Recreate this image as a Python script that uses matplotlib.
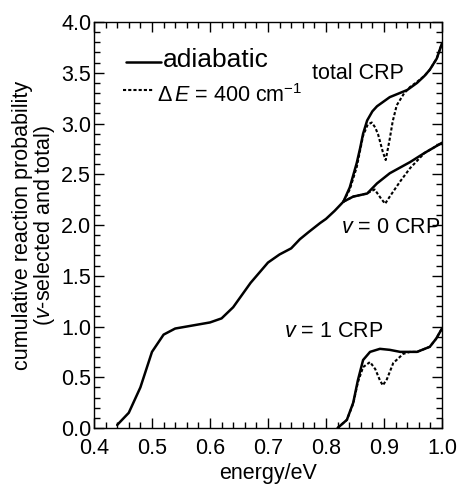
import matplotlib
matplotlib.use("Agg")
import matplotlib.pyplot as plt
from matplotlib.ticker import MultipleLocator

plt.rcParams['font.family'] = ['Liberation Sans', 'DejaVu Sans']
plt.rcParams['mathtext.fontset'] = 'custom'
plt.rcParams['mathtext.rm'] = 'Liberation Sans'
plt.rcParams['mathtext.it'] = 'Liberation Sans:italic'

# shared part (total = v=0 below the v=1 threshold)
e_low = [0.44, 0.46, 0.48, 0.50, 0.52, 0.54, 0.57, 0.60, 0.62, 0.64, 0.67,
         0.70, 0.72, 0.74, 0.755, 0.77, 0.79, 0.80, 0.815, 0.83]
p_low = [0.03, 0.15, 0.40, 0.75, 0.92, 0.98, 1.01, 1.04, 1.08, 1.19, 1.43,
         1.63, 1.71, 1.77, 1.86, 1.93, 2.02, 2.06, 2.14, 2.23]

# v = 0 CRP
e_v0 = [0.83, 0.847, 0.871, 0.888, 0.91, 0.945, 0.97, 1.0]
p_v0_adiab = [2.23, 2.28, 2.31, 2.41, 2.51, 2.62, 2.71, 2.81]
e_v0_dE = [0.83, 0.847, 0.87, 0.884, 0.895, 0.902, 0.91, 0.928, 0.945, 0.96, 0.97, 1.0]
p_v0_dE = [2.23, 2.28, 2.31, 2.35, 2.26, 2.21, 2.28, 2.43, 2.56, 2.65, 2.71, 2.81]

# total CRP
e_tot = [0.83, 0.841, 0.853, 0.859, 0.864, 0.871, 0.88, 0.888, 0.91, 0.94,
         0.957, 0.97, 0.979, 0.991, 1.0]
p_tot_adiab = [2.23, 2.37, 2.61, 2.76, 2.90, 3.03, 3.12, 3.17, 3.26, 3.33,
               3.40, 3.47, 3.53, 3.64, 3.79]
e_tot_dE = [0.83, 0.841, 0.853, 0.864, 0.872, 0.879, 0.885, 0.89, 0.898, 0.903,
            0.91, 0.915, 0.922, 0.935, 0.945, 0.957, 0.97, 0.979, 0.991, 1.0]
p_tot_dE = [2.23, 2.35, 2.57, 2.88, 2.99, 3.01, 2.96, 2.89, 2.72, 2.64,
            2.85, 3.02, 3.18, 3.30, 3.36, 3.41, 3.47, 3.53, 3.64, 3.79]

# v = 1 CRP
e_v1 = [0.82, 0.836, 0.847, 0.855, 0.864, 0.876, 0.893, 0.91, 0.928, 0.957,
        0.979, 0.99, 1.0]
p_v1_adiab = [0.0, 0.08, 0.25, 0.47, 0.67, 0.75, 0.78, 0.77, 0.75, 0.75,
              0.80, 0.88, 0.98]
e_v1_dE = [0.82, 0.836, 0.847, 0.855, 0.864, 0.876, 0.885, 0.893, 0.898, 0.905,
           0.916, 0.933, 0.945, 0.957, 0.979, 0.99, 1.0]
p_v1_dE = [0.0, 0.08, 0.24, 0.45, 0.60, 0.65, 0.58, 0.47, 0.42, 0.48,
           0.64, 0.73, 0.75, 0.75, 0.80, 0.88, 0.98]

solid = dict(color='black', lw=1.8, solid_capstyle='round')
dotted = dict(color='black', lw=1.5, linestyle=(0, (1.5, 1.0)))
fs = 15.5

fig = plt.figure(figsize=(4.58, 4.84), dpi=100)
ax = fig.add_axes([0.2052, 0.1157, 0.7598, 0.8388])

ax.plot(e_low, p_low, **solid)
ax.plot(e_v0_dE, p_v0_dE, **dotted)
ax.plot(e_tot_dE, p_tot_dE, **dotted)
ax.plot(e_v1_dE, p_v1_dE, **dotted)
ax.plot(e_v0, p_v0_adiab, **solid)
ax.plot(e_tot, p_tot_adiab, **solid)
ax.plot(e_v1, p_v1_adiab, **solid)

ax.set_xlim(0.4, 1.0)
ax.set_ylim(0.0, 4.0)
ax.xaxis.set_major_locator(MultipleLocator(0.1))
ax.xaxis.set_minor_locator(MultipleLocator(0.02))
ax.yaxis.set_major_locator(MultipleLocator(0.5))
ax.yaxis.set_minor_locator(MultipleLocator(0.1))
ax.xaxis.set_major_formatter(plt.FuncFormatter(lambda v, p: f"{v:.1f}"))
ax.yaxis.set_major_formatter(plt.FuncFormatter(lambda v, p: f"{v:.1f}"))
ax.tick_params(which='both', direction='in', top=True, right=True,
               labelsize=fs, width=1.0)
ax.tick_params(axis='x', pad=7)
ax.tick_params(axis='y', pad=2)
ax.tick_params(which='major', length=7)
ax.tick_params(which='minor', length=4)
for s in ax.spines.values():
    s.set_linewidth(1.0)

ax.set_xlabel('energy/eV', fontsize=fs, labelpad=3)
ax.set_ylabel('cumulative reaction probability\n($v$-selected and total)',
              fontsize=fs, labelpad=3, linespacing=0.95)

# legend drawn by hand
ax.plot([0.455, 0.516], [3.61, 3.61], **solid)
ax.text(0.518, 3.63, 'adiabatic', fontsize=19, va='center')
ax.plot([0.45, 0.502], [3.33, 3.33], **dotted)
ax.text(0.509, 3.28, r'$\Delta$$\,E$ = 400 cm$^{-1}$', fontsize=fs, va='center')

ax.text(0.776, 3.49, 'total CRP', fontsize=fs, va='center')
ax.text(0.998, 1.98, r'$v$ = 0 CRP', fontsize=fs, va='center', ha='right')
ax.text(0.7276, 0.955, r'$v$ = 1 CRP', fontsize=fs, va='center')

fig.savefig('out.png', dpi=100)
